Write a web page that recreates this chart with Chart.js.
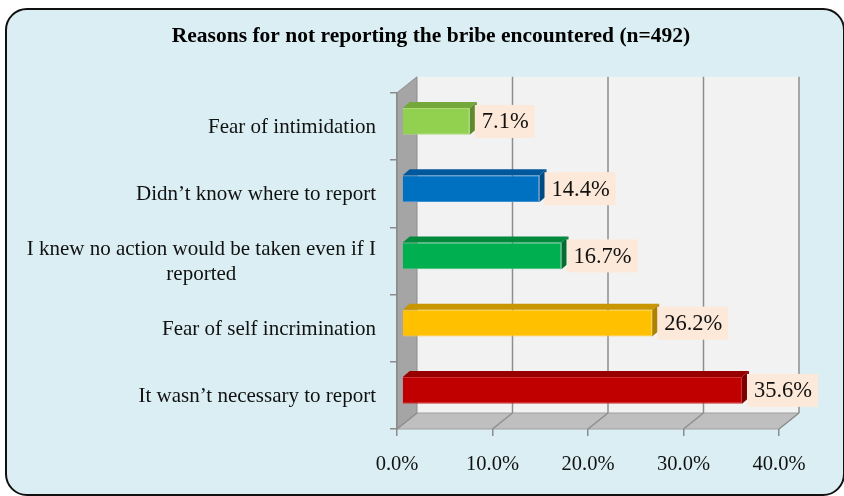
<!DOCTYPE html>
<html>
<head>
<meta charset="utf-8">
<script src="https://cdn.jsdelivr.net/npm/chart.js@4.4.1/dist/chart.umd.min.js"></script>
<style>
    html, body { margin: 0; padding: 0; background: #fff; }
    #frame {
        position: absolute; left: 5px; top: 8px;
        width: 836px; height: 484px;
        border: 2px solid #111; border-radius: 22px;
        background: #daeef3;
    }
    #wrap { position: absolute; left: 0; top: 0; width: 844px; height: 496px; }
</style>
</head>
<body>
<div id="frame"></div>
<div id="wrap"><canvas id="chart"></canvas></div>
<script>
// Data
const categories = [
    'Fear of intimidation',
    'Didn\u2019t know where to report',
    ['I knew no action would be taken even if I', 'reported'],
    'Fear of self incrimination',
    'It wasn\u2019t necessary to report'
];
const values = [7.1, 14.4, 16.7, 26.2, 35.6];
const xTicks = [0, 10, 20, 30, 40];
const titleText = 'Reasons for not reporting the bribe encountered (n=492)';

const frontColors = ['#92d050', '#0070c0', '#00b050', '#ffc000', '#c00000'];
const edgeColors = ['#a9dc72', '#3f8fd0', '#38c274', '#ffd040', '#d03030'];
const topColors = ['#74a83a', '#00589c', '#008a3e', '#c89600', '#980000'];
const sideColors = ['#5e8c2c', '#004a84', '#007032', '#ae8200', '#7c0000'];

const SERIF = '"Liberation Serif", "DejaVu Serif", serif';

// 3D geometry
const wallDepth = { dx: 20, dy: -16 };
const barShift = { dx: 5, dy: -5 };
const barDepth = { dx: 7, dy: -6 };

function poly(ctx, pts, fill, stroke) {
    ctx.beginPath();
    ctx.moveTo(pts[0][0], pts[0][1]);
    for (let i = 1; i < pts.length; i++) ctx.lineTo(pts[i][0], pts[i][1]);
    ctx.closePath();
    if (fill) { ctx.fillStyle = fill; ctx.fill(); }
    if (stroke) { ctx.strokeStyle = stroke; ctx.lineWidth = 1; ctx.stroke(); }
}

const threeDPlugin = {
    id: 'threeD',
    beforeDraw(chart) {
        const { ctx, chartArea: a, scales: { x } } = chart;
        const { dx, dy } = wallDepth;
        ctx.save();
        // back wall
        ctx.fillStyle = '#f2f2f2';
        ctx.fillRect(a.left + dx, a.top + dy, a.right - a.left, a.bottom - a.top);
        // left wall
        poly(ctx, [[a.left, a.top], [a.left + dx, a.top + dy], [a.left + dx, a.bottom + dy], [a.left, a.bottom]], '#a5a5a5', '#8c8c8c');
        // floor
        poly(ctx, [[a.left, a.bottom], [a.left + dx, a.bottom + dy], [a.right + dx, a.bottom + dy], [a.right, a.bottom]], '#bfbfbf', '#a0a0a0');
        // gridlines on back wall and floor
        ctx.strokeStyle = '#8e8e8e';
        ctx.lineWidth = 1.5;
        xTicks.forEach(v => {
            const px = x.getPixelForValue(v);
            ctx.beginPath();
            if (v > 0) {
                ctx.moveTo(px + dx, a.top + dy);
                ctx.lineTo(px + dx, a.bottom + dy);
            }
            ctx.moveTo(px, a.bottom);
            ctx.lineTo(px + dx, a.bottom + dy);
            ctx.stroke();
        });
        ctx.restore();
    },
    beforeDatasetsDraw(chart) {
        chart.ctx.save();
        chart.ctx.translate(barShift.dx, barShift.dy);
    },
    afterDatasetsDraw(chart) {
        const ctx = chart.ctx;
        const { dx, dy } = barDepth;
        const bars = chart.getDatasetMeta(0).data;
        bars.forEach((bar, i) => {
            const x0 = bar.base, x1 = bar.x;
            const y0 = bar.y - bar.height / 2, y1 = bar.y + bar.height / 2;
            poly(ctx, [[x0, y0], [x0 + dx, y0 + dy], [x1 + dx, y0 + dy], [x1, y0]], topColors[i]);
            poly(ctx, [[x1, y0], [x1 + dx, y0 + dy], [x1 + dx, y1 + dy], [x1, y1]], sideColors[i]);
        });
        ctx.restore();

        // value labels
        ctx.save();
        ctx.font = '22.5px ' + SERIF;
        ctx.textBaseline = 'middle';
        ctx.textAlign = 'left';
        bars.forEach((bar, i) => {
            const text = values[i].toFixed(1) + '%';
            const w = ctx.measureText(text).width;
            const bx = bar.x + barShift.dx + 5;
            const cy = bar.y + barShift.dy;
            ctx.fillStyle = '#fde9d9';
            ctx.fillRect(bx, cy - 16.5, w + 13, 33);
            ctx.fillStyle = '#111';
            ctx.fillText(text, bx + 7, cy + 1);
        });
        ctx.restore();
    },
    afterDraw(chart) {
        // category labels: right aligned, wrapped lines centred under each other
        const { ctx, scales: { y } } = chart;
        const right = chart.chartArea.left - 21;
        ctx.save();
        ctx.font = '21px ' + SERIF;
        ctx.fillStyle = '#111';
        ctx.textBaseline = 'middle';
        categories.forEach((label, i) => {
            const lines = Array.isArray(label) ? label : [label];
            const cy = y.getPixelForValue(i) + 1;
            const widest = Math.max(...lines.map(l => ctx.measureText(l).width));
            const lh = 25;
            lines.forEach((line, j) => {
                const ly = cy + (j - (lines.length - 1) / 2) * lh;
                if (lines.length > 1) {
                    ctx.textAlign = 'center';
                    ctx.fillText(line, right - widest / 2, ly);
                } else {
                    ctx.textAlign = 'right';
                    ctx.fillText(line, right, ly);
                }
            });
        });
        ctx.restore();
    }
};

new Chart(document.getElementById('chart'), {
    type: 'bar',
    data: {
        labels: categories,
        datasets: [{
            data: values,
            backgroundColor: frontColors,
            borderColor: edgeColors,
            borderWidth: 1,
            categoryPercentage: 1,
            barPercentage: 0.4
        }]
    },
    options: {
        indexAxis: 'y',
        responsive: true,
        maintainAspectRatio: false,
        animation: false,
        // left/right padding keeps the title centred where the reference has it
        layout: { padding: { left: 83, right: 65, top: 0, bottom: 0 } },
        plugins: {
            legend: { display: false },
            tooltip: { enabled: false },
            title: {
                display: true,
                text: titleText,
                color: '#000',
                font: { family: SERIF, size: 21.5, weight: 'bold' },
                padding: { top: 24, bottom: 43 }
            }
        },
        scales: {
            x: {
                min: 0,
                max: 40,
                afterFit(scale) { scale.height = 67; },
                afterBuildTicks(scale) { scale.ticks = xTicks.map(v => ({ value: v })); },
                ticks: {
                    padding: 16,
                    color: '#111',
                    font: { family: SERIF, size: 20.5 },
                    callback: v => v.toFixed(1) + '%'
                },
                grid: { drawOnChartArea: false, drawTicks: true, tickLength: 7, color: '#8c8c8c', lineWidth: 1.5 },
                border: { display: false }
            },
            y: {
                afterFit(scale) { scale.width = 314; },
                ticks: { display: false },
                grid: { drawOnChartArea: false, drawTicks: true, tickLength: 7, color: '#8c8c8c', lineWidth: 1.5 },
                border: { display: true, color: '#8c8c8c', width: 1.5 }
            }
        }
    },
    plugins: [threeDPlugin]
});
</script>
</body>
</html>
